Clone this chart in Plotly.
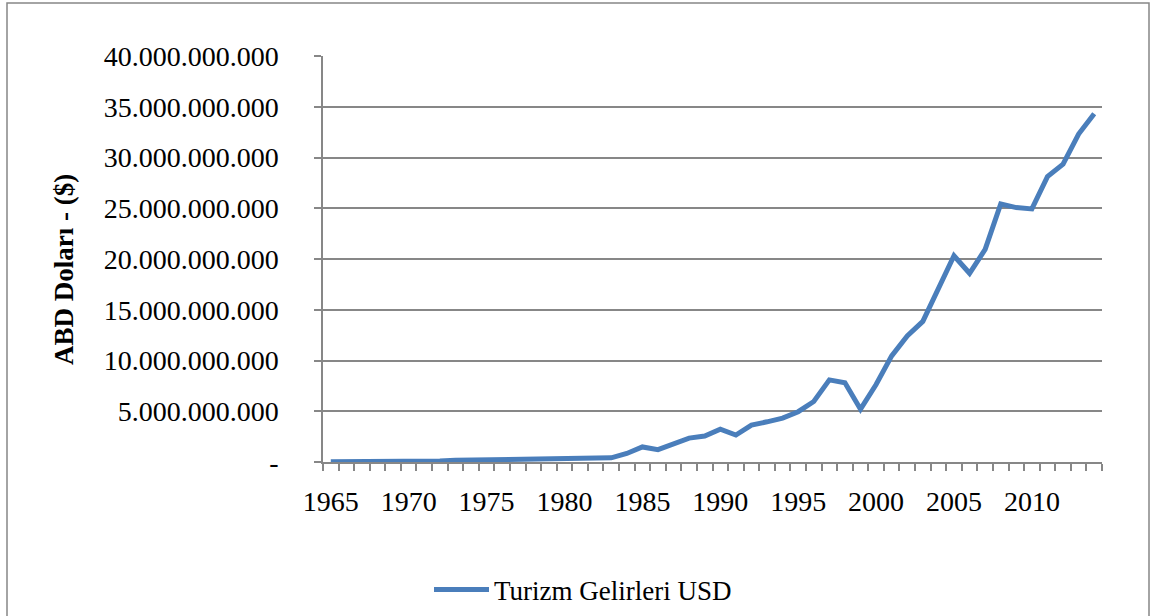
import plotly.graph_objects as go

years = list(range(1965, 2015))
revenue_musd = [13.8, 11.8, 13.1, 14.6, 34.1, 51.6, 62.1, 103.7, 171.5, 193.7,
                200.9, 180.6, 204.9, 230.4, 280.7, 326.7, 381.3, 370.3, 411.1, 840.0,
                1482, 1215, 1721, 2355, 2557, 3225, 2654, 3639, 3959, 4321,
                4957, 5962, 8088, 7809, 5203, 7636, 10451, 12421, 13854, 17077,
                20322, 18594, 20943, 25415, 25064, 24931, 28116, 29351, 32309, 34305]
revenue = [v * 1e6 for v in revenue_musd]

y_tickvals = [0, 5e9, 10e9, 15e9, 20e9, 25e9, 30e9, 35e9, 40e9]
y_ticktext = ["-", "5.000.000.000", "10.000.000.000", "15.000.000.000", "20.000.000.000",
              "25.000.000.000", "30.000.000.000", "35.000.000.000", "40.000.000.000"]
x_tickvals = [1965, 1970, 1975, 1980, 1985, 1990, 1995, 2000, 2005, 2010]
series_name = "Turizm Gelirleri USD"
y_title = "ABD Doları - ($)"

W, H = 1151, 616
L, R, T, B = 323, 1102, 56, 462
pw, ph = R - L, B - T

def px(x):
    return (x - L) / pw

def py(y):
    return (B - y) / ph

FONT = "Liberation Serif"
GREY = "#878787"

fig = go.Figure()
fig.add_trace(go.Scatter(
    x=years, y=revenue, mode="lines", name=series_name,
    line=dict(color="#4A7EBB", width=5),
))

fig.update_layout(
    width=W, height=H,
    margin=dict(l=L, r=W - R, t=T, b=H - B),
    paper_bgcolor="white", plot_bgcolor="white",
    font=dict(family=FONT, size=28, color="black"),
    showlegend=True,
    legend=dict(orientation="h", xref="container", yref="container",
                x=429 / W, y=1 - 590 / H, xanchor="left", yanchor="middle",
                itemwidth=55,
                font=dict(family=FONT, size=27, color="black"), bgcolor="rgba(0,0,0,0)"),
    xaxis=dict(
        range=[1964.5, 2014.5], tickvals=x_tickvals, ticktext=[str(v) for v in x_tickvals],
        ticks="", showgrid=False, zeroline=False,
        showline=True, linecolor=GREY, linewidth=1.5,
        tickfont=dict(family=FONT, size=28, color="black"),
        ticklabelstandoff=14,
        minor=dict(tick0=1964.5, dtick=1, ticks="outside", ticklen=7, tickcolor=GREY,
                   tickwidth=1.5, showgrid=False),
    ),
    yaxis=dict(
        range=[0, 40e9], tickvals=y_tickvals, ticktext=y_ticktext,
        ticks="outside", ticklen=7, tickcolor=GREY, tickwidth=1.5,
        showgrid=True, gridcolor=GREY, gridwidth=1.5, zeroline=False,
        showline=True, linecolor=GREY, linewidth=1.5,
        tickfont=dict(family=FONT, size=28, color="black"),
        ticklabelstandoff=30,
    ),
    annotations=[dict(
        text="<b>" + y_title + "</b>", textangle=-90, x=px(64), y=py(270),
        xref="paper", yref="paper", xanchor="center", yanchor="middle", showarrow=False,
        font=dict(family=FONT, size=27, color="black"),
    )],
    shapes=[dict(
        type="rect", xref="paper", yref="paper",
        x0=px(7), x1=px(1149), y0=py(640), y1=py(3),
        line=dict(color=GREY, width=1.5), fillcolor="rgba(0,0,0,0)", layer="below",
    )],
)

fig.write_html("out.html", config={"displayModeBar": False},
               post_script="document.body.style.margin='0';")
